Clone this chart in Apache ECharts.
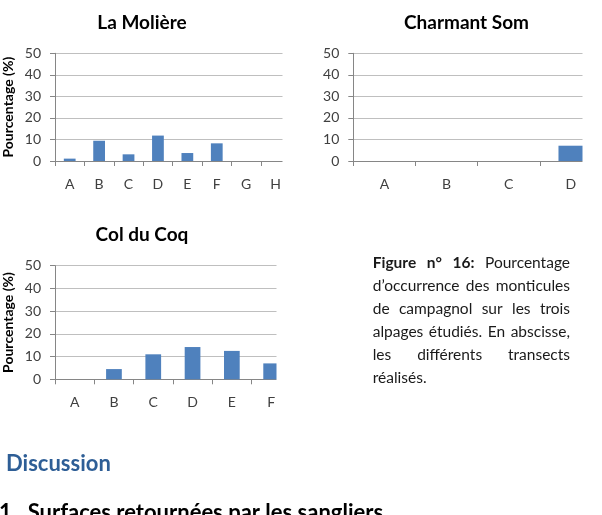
<!DOCTYPE html>
<html>
<head>
<meta charset="utf-8">
<script src="https://cdn.jsdelivr.net/npm/echarts@6/dist/echarts.min.js"></script>
<style>
  html, body { margin: 0; padding: 0; background: #fff; }
  #main { width: 602px; height: 515px; }
</style>
</head>
<body>
<div id="main"></div>
<script>
  // valeurs (pourcentage d'occurrence des monticules)
  var moliereCats = ['A', 'B', 'C', 'D', 'E', 'F', 'G', 'H'];
  var moliereVals = [1.1, 9.4, 3.1, 11.8, 3.7, 8.2, 0, 0];
  var charmantCats = ['A', 'B', 'C', 'D'];
  var charmantVals = [0, 0, 0, 7.1];
  var coqCats = ['A', 'B', 'C', 'D', 'E', 'F'];
  var coqVals = [0, 4.5, 11.0, 14.2, 12.5, 7.0];
  var titles = ['La Molière', 'Charmant Som', 'Col du Coq'];
  var yName = 'Pourcentage (%)';

  var captionLines = [
    [['Figure', true], ['n°', true], ['16:', true], ['Pourcentage', false]],
    [['d’occurrence', false], ['des', false], ['monticules', false]],
    [['de', false], ['campagnol', false], ['sur', false], ['les', false], ['trois', false]],
    [['alpages', false], ['étudiés.', false], ['En', false], ['abscisse,', false]],
    [['les', false], ['différents', false], ['transects', false]],
    [['réalisés.', false]]
  ];

  var FONT = 'Lato, "Open Sans", sans-serif';
  var barColor = '#4F81BD';
  var gridColor = '#BFBFBF';
  var axisColor = '#868686';
  var labelColor = '#404040';

  var chart = echarts.init(document.getElementById('main'));

  function xAx(idx, cats) {
    return {
      type: 'category', gridIndex: idx, data: cats,
      axisLine: { lineStyle: { color: axisColor } },
      axisTick: { show: true, length: 5, interval: 0, lineStyle: { color: axisColor } },
      axisLabel: { color: labelColor, fontSize: 14, fontFamily: FONT, margin: 16, interval: 0 }
    };
  }
  function yAx(idx, withName) {
    return {
      type: 'value', gridIndex: idx, min: 0, max: 50, interval: 10,
      name: withName ? yName : '',
      nameLocation: 'middle', nameGap: 40,
      nameTextStyle: { fontWeight: 'bold', fontSize: 14, fontFamily: FONT, color: '#000' },
      axisLine: { show: true, lineStyle: { color: axisColor } },
      axisTick: { show: true, length: 5, lineStyle: { color: axisColor } },
      axisLabel: { color: labelColor, fontSize: 14, fontFamily: FONT, margin: 14 },
      splitLine: { lineStyle: { color: gridColor } }
    };
  }
  function bars(idx, vals) {
    return {
      type: 'bar', xAxisIndex: idx, yAxisIndex: idx, data: vals,
      barWidth: '40%', itemStyle: { color: barColor }, silent: true
    };
  }

  // texte de la légende, justifié entre deux bords
  var measure = document.createElement('canvas').getContext('2d');
  var capLeft = 372.7, capRight = 570, capTop = 263.3, capStep = 22.9, capSize = 15.5;
  var graphics = [];
  captionLines.forEach(function (words, li) {
    var fonts = words.map(function (w) {
      return (w[1] ? 'bold ' : '') + capSize + 'px ' + FONT;
    });
    var widths = words.map(function (w, i) {
      measure.font = fonts[i];
      return measure.measureText(w[0]).width;
    });
    var total = widths.reduce(function (a, b) { return a + b; }, 0);
    var last = li === captionLines.length - 1;
    var gap = (words.length > 1 && !last) ? (capRight - capLeft - total) / (words.length - 1) : 0;
    var x = capLeft;
    words.forEach(function (w, i) {
      graphics.push({
        type: 'text', z: 200,
        style: {
          text: w[0], x: x, y: capTop + li * capStep, font: fonts[i],
          fill: '#1a1a1a', textAlign: 'left', textVerticalAlign: 'middle'
        }
      });
      x += widths[i] + gap;
    });
  });

  // titres des trois graphiques
  [[142, 23.3], [466.5, 23.3], [142, 235]].forEach(function (p, i) {
    graphics.push({
      type: 'text', z: 200,
      style: {
        text: titles[i], x: p[0], y: p[1], font: 'bold 19px ' + FONT,
        fill: '#000', textAlign: 'center', textVerticalAlign: 'middle'
      }
    });
  });

  // les graphiques d'origine sont rognés à droite
  graphics.push(
    { type: 'rect', z: 150, shape: { x: 282.5, y: 40, width: 36, height: 135 }, style: { fill: '#fff' } },
    { type: 'rect', z: 150, shape: { x: 582.5, y: 40, width: 30, height: 135 }, style: { fill: '#fff' } },
    { type: 'rect', z: 150, shape: { x: 276.5, y: 250, width: 60, height: 140 }, style: { fill: '#fff' } }
  );

  // titres de la suite du document
  graphics.push(
    {
      type: 'text', z: 200,
      style: {
        text: 'Discussion', x: 6, y: 463.5, font: 'bold 22px ' + FONT,
        fill: '#2E5E96', textAlign: 'left', textVerticalAlign: 'middle'
      }
    },
    {
      type: 'text', z: 200,
      style: {
        text: '1.  Surfaces retournées par les sangliers', x: -1, y: 502, font: 'bold 22px ' + FONT,
        fill: '#000', textAlign: 'left', textVerticalAlign: 'top'
      }
    }
  );

  chart.setOption({
    backgroundColor: '#fff',
    animation: false,
    grid: [
      { left: 54.3, top: 53.3, width: 236, height: 107.7 },
      { left: 353.3, top: 53.3, width: 256, height: 107.7 },
      { left: 54.4, top: 265.7, width: 236.4, height: 113.6 }
    ],
    xAxis: [xAx(0, moliereCats), xAx(1, charmantCats), xAx(2, coqCats)],
    yAxis: [yAx(0, true), yAx(1, false), yAx(2, true)],
    series: [bars(0, moliereVals), bars(1, charmantVals), bars(2, coqVals)],
    graphic: graphics
  });
</script>
</body>
</html>
